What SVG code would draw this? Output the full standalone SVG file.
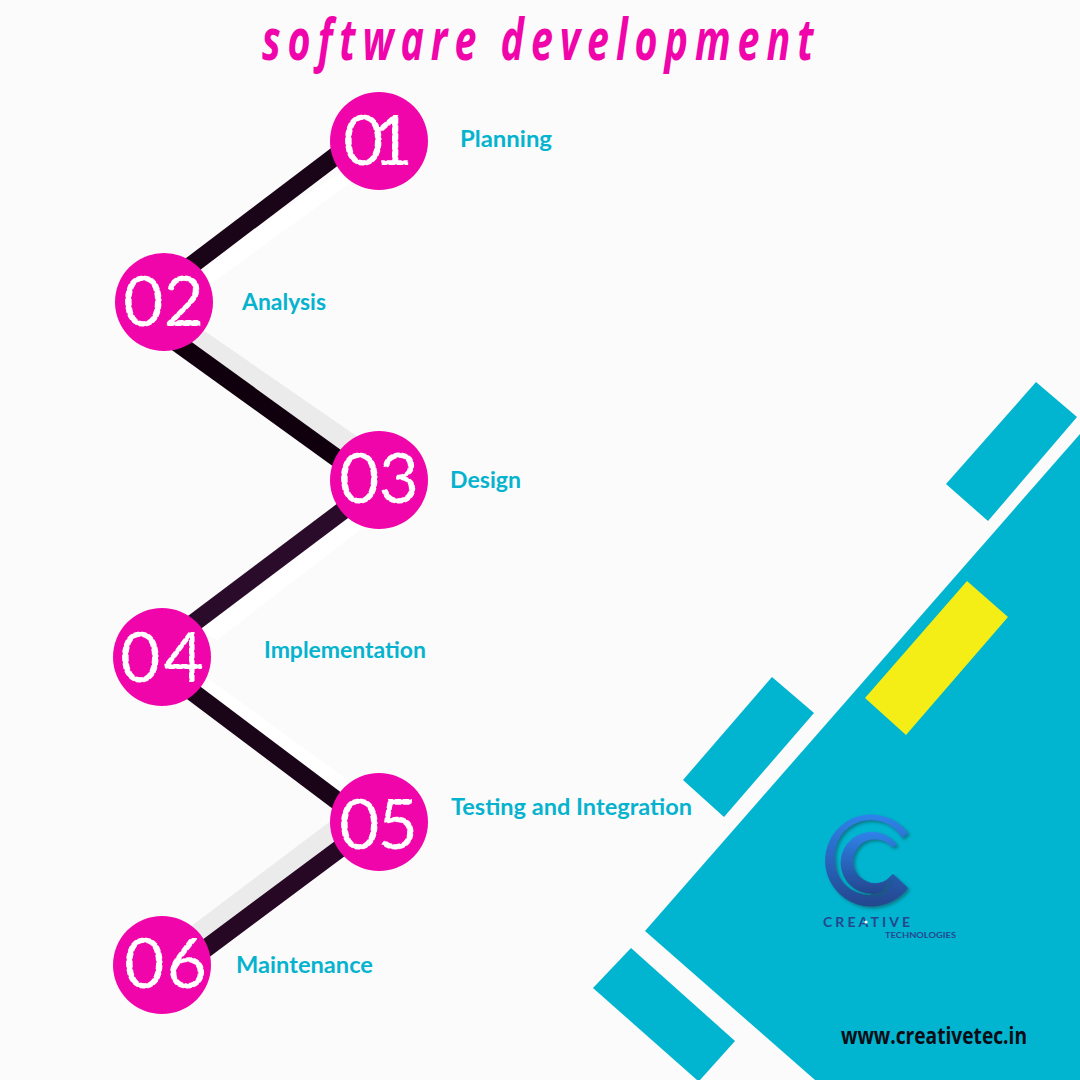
<svg xmlns="http://www.w3.org/2000/svg" width="1080" height="1080" viewBox="0 0 1080 1080">
<style>
.n{fill:#f005ab}
.d{font-family:"Lato","Liberation Sans",sans-serif;font-size:70px;fill:#fff;stroke:#f005ab;stroke-width:1px;stroke-dasharray:2 6}
.l{font-family:"Lato","Liberation Sans",sans-serif;font-weight:700;font-size:23px;fill:#06b3cf}
.c{fill:none;stroke-width:18}
.t{fill:#01b4cf}
.f{font-family:"Lato","Liberation Sans",sans-serif;font-weight:700;fill:#24478f}
</style>
<defs>
<linearGradient id="g" x1="0" y1="0" x2="0" y2="1"><stop offset="0" stop-color="#2f83ea"/><stop offset="1" stop-color="#24468e"/></linearGradient>
<filter id="s" x="-20%" y="-20%" width="150%" height="150%"><feDropShadow dx="2" dy="2" stdDeviation="1.5" flood-color="#07616f" flood-opacity=".7"/></filter>
</defs>
<rect width="1080" height="1080" fill="#fbfbfb"/>
<g id="shapes">
<polygon class="t" points="1080,434 645,931 815,1080 1080,1080"/>
<polygon class="t" points="1036,382 1077,417 988,521 946,484"/>
<polygon points="967,581 1008,617 906,735 865,698" fill="#f4ee16"/>
<polygon class="t" points="772,677 814,713 724,817 683,780"/>
<polygon class="t" points="631,948 735,1041 700,1080 697,1080 593,988"/>
</g>
<g id="connectors">
<polygon points="360,160 365,172 212,283 190,270" fill="#fff"/>
<polygon points="203,330 358,437 340,460 185,345" fill="#ebebeb"/>
<polygon points="345,505 365,526 217,640 190,625" fill="#fff"/>
<polygon points="210,680 352,783 340,800 195,695" fill="#fff"/>
<polygon points="332,820 345,850 205,945 190,927" fill="#ebebeb"/>
<line class="c" x1="360" y1="137.5" x2="170" y2="281.5" stroke="#1a0418"/>
<line class="c" x1="160" y1="330.4" x2="360" y2="474.8" stroke="#10000e"/>
<line class="c" x1="365" y1="494" x2="175" y2="637" stroke="#2a0c2a"/>
<line class="c" x1="170" y1="675" x2="360" y2="818" stroke="#1a0418"/>
<line class="c" x1="360" y1="833.6" x2="185" y2="964" stroke="#260824"/>
</g>
<g id="node1"><circle class="n" cx="379" cy="141" r="49"/><text class="d" x="343" y="165" textLength="70">01</text></g>
<g id="node2"><circle class="n" cx="164" cy="302" r="49"/><text class="d" x="123" y="326" textLength="81">02</text></g>
<g id="node3"><circle class="n" cx="379" cy="480" r="49"/><text class="d" x="339" y="503" textLength="80">03</text></g>
<g id="node4"><circle class="n" cx="162" cy="657" r="49"/><text class="d" x="120" y="682" textLength="84">04</text></g>
<g id="node5"><circle class="n" cx="379" cy="822" r="49"/><text class="d" x="339" y="849" textLength="79">05</text></g>
<g id="node6"><circle class="n" cx="162" cy="965" r="49"/><text class="d" x="124" y="988" textLength="83">06</text></g>
<g id="labels">
<text class="l" x="460" y="147" textLength="92" lengthAdjust="spacingAndGlyphs">Planning</text>
<text class="l" x="242" y="310" textLength="84" lengthAdjust="spacingAndGlyphs">Analysis</text>
<text class="l" x="450" y="488" textLength="71" lengthAdjust="spacingAndGlyphs">Design</text>
<text class="l" x="264" y="658" textLength="162" lengthAdjust="spacingAndGlyphs">Implementation</text>
<text class="l" x="451" y="815" textLength="241" lengthAdjust="spacingAndGlyphs">Testing and Integration</text>
<text class="l" x="236" y="973" textLength="137" lengthAdjust="spacingAndGlyphs">Maintenance</text>
</g>
<text id="title" transform="translate(262,60) scale(.68,1)" textLength="811" lengthAdjust="spacing" style="font-family:'Open Sans','Liberation Sans',sans-serif;font-style:italic;font-weight:700;font-size:58px;fill:#f005ab">software development</text>
<g id="logo">
<path filter="url(#s)" d="M908 833A46 46 0 1 0 908 888L893 874L870 895A35 35 0 0 1 835 860A36 36 0 0 1 902 838Z" fill="url(#g)"/>
<path filter="url(#s)" d="M897 845A31 31 0 1 0 882 892L893 874A22 22 0 1 1 892 847Z" fill="url(#g)"/>
<text class="f" x="823" y="927" font-size="14" textLength="87">CREATIVE</text>
<circle cx="866" cy="922" r="1.6" fill="#fff"/>
<text class="f" x="885" y="938" font-size="8" textLength="71" lengthAdjust="spacingAndGlyphs">TECHNOLOGIES</text>
</g>
<text id="url" x="841" y="1044" style="font-family:'Open Sans','Liberation Sans',sans-serif;font-weight:700;font-size:23px;fill:#0c0c14" textLength="186" lengthAdjust="spacingAndGlyphs">www.creativetec.in</text>
</svg>
